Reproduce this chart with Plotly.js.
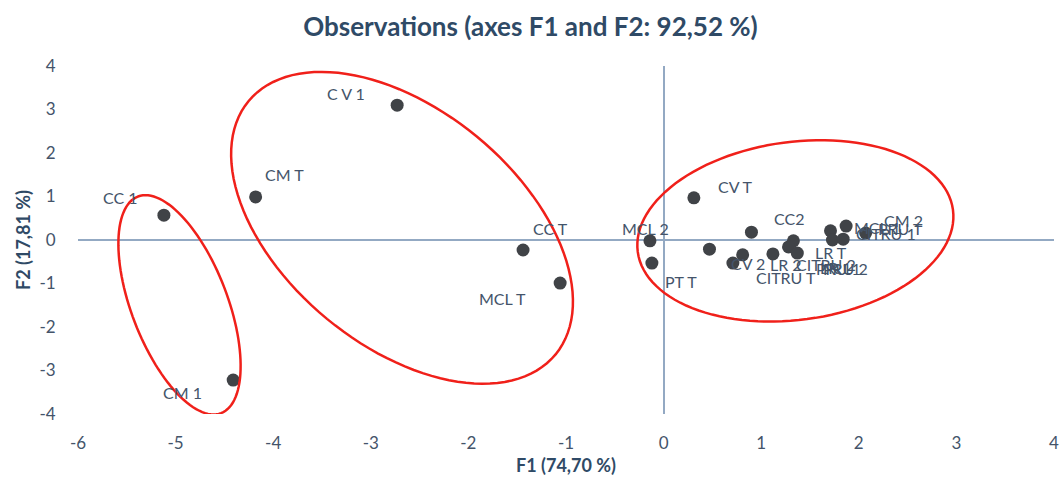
<!DOCTYPE html>
<html>
<head>
<meta charset="utf-8">
<script src="https://cdn.plot.ly/plotly-3.0.1.min.js"></script>
<style>html,body{margin:0;padding:0;background:#fff;}#chart{width:1061px;height:481px;}</style>
</head>
<body>
<div id="chart"></div>
<script>
// Observation labels and coordinates (F1, F2)
const labels = ["CC 1","CM 1","CM T","C V 1","CC T","MCL T","MCL 2","PT T","CV T","CV 2","CC2","LR 2","CITRU T","CITRU 2","LR T","LR 1","PRU 1","MCL 1","CM 2","PRU 2","CITRU 1","PRU T"];
const f1 = [-5.12,-4.41,-4.18,-2.73,-1.44,-1.06,-0.14,-0.12,0.31,0.47,0.90,0.81,0.71,1.12,1.33,1.28,1.37,1.71,1.87,1.73,1.84,2.07];
const f2 = [0.57,-3.22,0.99,3.10,-0.23,-0.99,-0.02,-0.53,0.97,-0.21,0.18,-0.34,-0.53,-0.32,-0.02,-0.16,-0.30,0.21,0.32,0.00,0.02,0.16];
// label offsets from each point, in pixels (right, down)
const labelDx = [-43,-51,29,-51,27,-58,-4,29,42,39,38,43,53,53,38,47,41,47,57,13,43,35];
const labelDy = [-18,12,-22,-12,-22,15,-12,18,-11,14,-14,10,14,11,12,21,15,-3,-6,28,-6,-5];

const xTicks = [-6,-5,-4,-3,-2,-1,0,1,2,3,4];
const xTickText = ["-6","-5","-4","-3","-2","-1","0","1","2","3","4"];
const yTicks = [-4,-3,-2,-1,0,1,2,3,4];
const yTickText = ["-4","-3","-2","-1","0","1","2","3","4"];

// Group ellipses: centre in data units, semi-axes in px, rotation in degrees
const ellCx = [-4.96,-2.68,1.35];
const ellCy = [-1.49,0.28,0.21];
const ellA = [116,199,159];
const ellB = [48,118,89];
const ellRot = [111,-39.5,7.6];

const W = 1061, H = 481;
const margin = {l:78, r:7, t:66, b:67};
const xRange = [-6,4], yRange = [-4,4];
const kx = (W - margin.l - margin.r) / (xRange[1]-xRange[0]);
const ky = (H - margin.t - margin.b) / (yRange[1]-yRange[0]);

function ellipsePath(cx, cy, a, b, rotDeg){
  const p = rotDeg*Math.PI/180, n = 120;
  let d = "";
  for(let i=0;i<=n;i++){
    const t = 2*Math.PI*i/n;
    const ox = a*Math.cos(t)*Math.cos(p) - b*Math.sin(t)*Math.sin(p);
    const oy = a*Math.cos(t)*Math.sin(p) + b*Math.sin(t)*Math.cos(p);
    const x = cx + ox/kx, y = cy + oy/ky;
    d += (i===0?"M":"L") + x.toFixed(4) + "," + y.toFixed(4);
  }
  return d + "Z";
}

const shapes = ellCx.map((c,i)=>({
  type:"path", xref:"x", yref:"y", path: ellipsePath(c, ellCy[i], ellA[i], ellB[i], ellRot[i]),
  line:{color:"#f0201a", width:2.5}, fillcolor:"rgba(0,0,0,0)", layer:"above"
}));

const txtColor = "#44546a";
const titleColor = "#2f4a66";
const font = "Lato, 'Open Sans', sans-serif";

const annotations = labels.map((t,i)=>({
  x:f1[i], y:f2[i], xref:"x", yref:"y", text:t, showarrow:false,
  xanchor:"center", yanchor:"middle", xshift:labelDx[i], yshift:-labelDy[i],
  font:{family:font, size:16, color:txtColor}
}));

const trace = {
  type:"scatter", mode:"markers",
  x:f1, y:f2,
  marker:{size:13, color:"#404347"},
  hoverinfo:"none", cliponaxis:false
};

const layout = {
  width:W, height:H, margin:margin,
  paper_bgcolor:"#fff", plot_bgcolor:"#fff",
  showlegend:false,
  font:{family:font, color:txtColor},
  title:{text:"<b>Observations (axes F1 and F2: 92,52 %)</b>", x:0.5, xanchor:"center", y:0.945, yanchor:"middle",
         font:{family:font, size:26, color:titleColor}},
  xaxis:{range:xRange, tickvals:xTicks, ticktext:xTickText, showgrid:false, showline:false,
         zeroline:true, zerolinecolor:"#93a9c3", zerolinewidth:2,
         ticks:"outside", ticklen:14, tickcolor:"rgba(0,0,0,0)", ticklabeloverflow:"allow",
         tickfont:{family:font, size:17, color:txtColor},
         title:{text:"<b>F1 (74,70 %)</b>", font:{family:font, size:18, color:titleColor}, standoff:6}},
  yaxis:{range:yRange, tickvals:yTicks, ticktext:yTickText, showgrid:false, showline:false,
         zeroline:true, zerolinecolor:"#93a9c3", zerolinewidth:2,
         ticks:"outside", ticklen:18, tickcolor:"rgba(0,0,0,0)",
         tickfont:{family:font, size:17, color:txtColor},
         title:{text:"<b>F2 (17,81 %)</b>", font:{family:font, size:18, color:titleColor}, standoff:4}},
  shapes:shapes,
  annotations:annotations
};

Plotly.newPlot("chart", [trace], layout, {displayModeBar:false, staticPlot:true});
</script>
</body>
</html>
